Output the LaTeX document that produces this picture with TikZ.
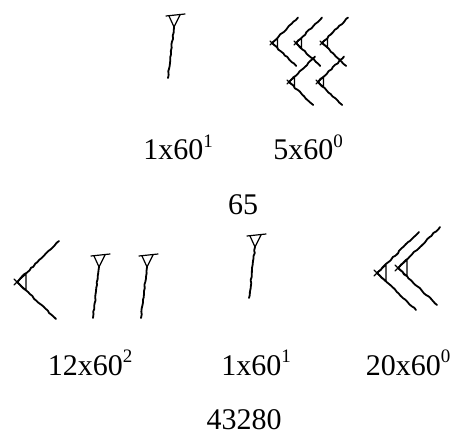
\documentclass[tikz,border=0pt]{standalone}
\usepackage{fontspec}
\setmainfont{Liberation Serif}
\usetikzlibrary{decorations.pathmorphing}
\newcommand{\powTxt}[1]{\raisebox{0.42em}{\fontsize{19bp}{19bp}\selectfont #1}}

\begin{document}
\begin{tikzpicture}[x=1bp,y=-1bp,
    numLabel/.style={anchor=base,inner sep=0pt,font=\fontsize{30bp}{34bp}\selectfont},
    cuneiStroke/.style={line width=1.8bp,line cap=round,line join=round,decorate,decoration={random steps,segment length=3bp,amplitude=0.55bp}},
    headStroke/.style={line width=1.2bp,line cap=round,line join=round},
    unitWedge/.pic={
      \draw[headStroke] (-9,1) -- (10,-1);
      \draw[headStroke] (-6,1) -- (-1,12) -- (5,0);
      \draw[cuneiStroke] (-1,12) -- (-7,63);
    },
    tenChevron/.pic={
      \draw[cuneiStroke] (42,-41) -- (0,0) -- (39,37);
      \draw[headStroke] (0,0) -- (9,-8) -- (9,8) -- cycle;
      \draw[headStroke] (-3,-3) -- (3,3) (-3,3) -- (3,-3);
    },
]
\useasboundingbox (0,0) rectangle (461,436);
% 65
\pic at (175,15) {unitWedge};
\pic[scale=0.62] at (272,43) {tenChevron};
\pic[scale=0.62] at (296,43) {tenChevron};
\pic[scale=0.62] at (322,43) {tenChevron};
\pic[scale=0.62] at (289,82) {tenChevron};
\pic[scale=0.62] at (318,82) {tenChevron};
\node[numLabel] (topOne) at (178,160) {1x60\powTxt{1}};
\node[numLabel] (topFive) at (308,160) {5x60\powTxt{0}};
\node[numLabel] (sumTop) at (243,215) {65};
% 43280
\pic at (17,282) {tenChevron};
\pic at (100,255) {unitWedge};
\pic at (148,255) {unitWedge};
\pic at (256,235) {unitWedge};
\pic at (377,273) {tenChevron};
\pic at (398,268) {tenChevron};
\node[numLabel] (botTwelve) at (90,375) {12x60\powTxt{2}};
\node[numLabel] (botOne) at (256,375) {1x60\powTxt{1}};
\node[numLabel] (botTwenty) at (408,375) {20x60\powTxt{0}};
\node[numLabel] (sumBot) at (244,429) {43280};
\end{tikzpicture}
\end{document}
